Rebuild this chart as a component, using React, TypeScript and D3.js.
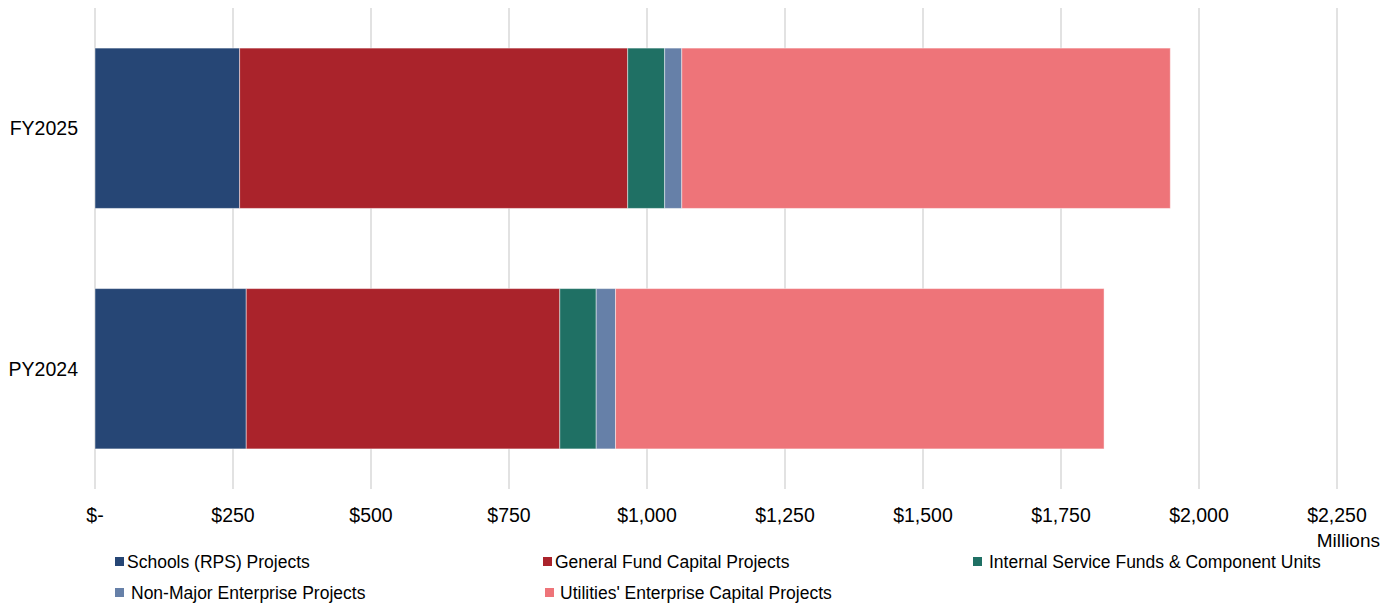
import React, { useEffect, useRef } from 'react';
import * as d3 from 'd3';

const categories = ['FY2025', 'PY2024'];
const seriesNames = [
  'Schools (RPS) Projects',
  'General Fund Capital Projects',
  'Internal Service Funds & Component Units',
  'Non-Major Enterprise Projects',
  "Utilities' Enterprise Capital Projects",
];
const seriesColors = ['#264675', '#aa232b', '#1f7064', '#6680a8', '#ee7479'];
// values in millions, per series: [FY2025, PY2024]
const schools = [262, 274];
const generalFund = [703, 568];
const internalService = [67, 66];
const nonMajor = [31, 35];
const utilities = [885, 885];
const xTicks = [0, 250, 500, 750, 1000, 1250, 1500, 1750, 2000, 2250];

const App = () => {
  const svgRef = useRef<SVGSVGElement>(null);

  useEffect(() => {
    if (!svgRef.current) return;
    const svg = d3.select(svgRef.current);
    svg.selectAll('*').remove();

    const width = 1393;
    const height = 606;
    const font = '"Liberation Sans", Arial, sans-serif';

    svg.attr('width', width).attr('height', height);

    const x = d3.scaleLinear().domain([0, 2250]).range([95, 1337]);
    const y = d3.scaleBand()
      .domain(categories)
      .range([8, 489])
      .paddingInner(1 / 3)
      .paddingOuter(1 / 6);

    const allSeries = [schools, generalFund, internalService, nonMajor, utilities];
    const rows = categories.map((c, i) => {
      const row: any = { cat: c };
      seriesNames.forEach((s, k) => { row[s] = allSeries[k][i]; });
      return row;
    });
    const stacked = d3.stack().keys(seriesNames)(rows);

    // gridlines
    svg.append('g')
      .selectAll('line')
      .data(xTicks)
      .enter()
      .append('line')
      .attr('x1', d => x(d))
      .attr('x2', d => x(d))
      .attr('y1', 8)
      .attr('y2', 489)
      .attr('stroke', '#d9d9d9')
      .attr('stroke-width', 1.5);

    // bars
    stacked.forEach((layer, k) => {
      svg.append('g')
        .selectAll('rect')
        .data(layer)
        .enter()
        .append('rect')
        .attr('x', d => x(d[0]))
        .attr('y', (d: any) => y(d.data.cat) as number)
        .attr('width', d => x(d[1]) - x(d[0]))
        .attr('height', y.bandwidth())
        .attr('fill', seriesColors[k])
        .attr('stroke', '#ffffff')
        .attr('stroke-opacity', 0.45)
        .attr('stroke-width', 1);
    });

    // x tick labels
    svg.append('g')
      .selectAll('text')
      .data(xTicks)
      .enter()
      .append('text')
      .attr('x', d => x(d))
      .attr('y', 522)
      .attr('text-anchor', 'middle')
      .attr('font-family', font)
      .attr('font-size', 19.5)
      .attr('fill', '#000')
      .text(d => (d === 0 ? '$-' : '$' + d3.format(',')(d)));

    svg.append('text')
      .attr('x', 1380)
      .attr('y', 547)
      .attr('text-anchor', 'end')
      .attr('font-family', font)
      .attr('font-size', 19)
      .attr('fill', '#000')
      .text('Millions');

    // category labels
    svg.append('g')
      .selectAll('text')
      .data(categories)
      .enter()
      .append('text')
      .attr('x', 78)
      .attr('y', d => (y(d) as number) + y.bandwidth() / 2 + 7)
      .attr('text-anchor', 'end')
      .attr('font-family', font)
      .attr('font-size', 19.5)
      .attr('fill', '#000')
      .text(d => d);

    // legend
    const legendPos = [
      { sx: 115, tx: 127, y: 562 },
      { sx: 543, tx: 555, y: 562 },
      { sx: 973, tx: 989, y: 562 },
      { sx: 115, tx: 131, y: 593 },
      { sx: 545, tx: 560, y: 593 },
    ];
    const legend = svg.append('g');
    seriesNames.forEach((name, k) => {
      const p = legendPos[k];
      legend.append('rect')
        .attr('x', p.sx)
        .attr('y', p.y - 5)
        .attr('width', 9)
        .attr('height', 9)
        .attr('fill', seriesColors[k]);
      legend.append('text')
        .attr('x', p.tx)
        .attr('y', p.y + 6)
        .attr('font-family', font)
        .attr('font-size', 17.5)
        .attr('fill', '#000')
        .text(name);
    });
  }, []);

  return (
    <div>
      <svg ref={svgRef} style={{ position: 'absolute', left: 0, top: 0 }}></svg>
    </div>
  );
};

export default App;
